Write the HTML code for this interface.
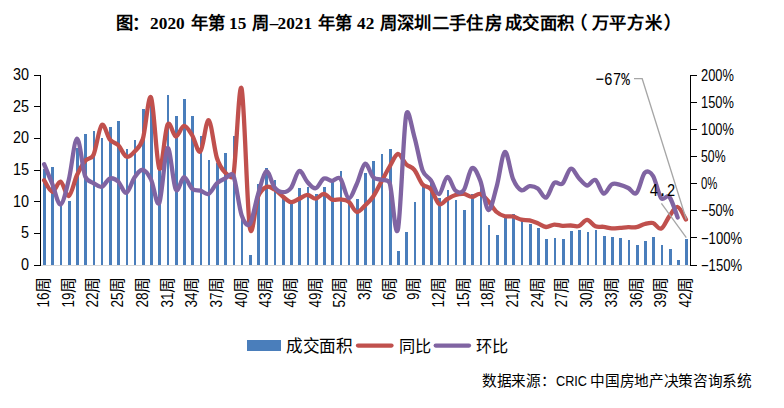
<!DOCTYPE html>
<html lang="zh-CN"><head><meta charset="utf-8"><style>
html,body{margin:0;padding:0;background:#fff;width:784px;height:408px;overflow:hidden}
svg{position:absolute;left:0;top:0;font-family:"Liberation Sans", sans-serif}
</style></head><body>
<svg width="784" height="408" viewBox="0 0 784 408">
<line x1="40.0" y1="265.5" x2="690.0" y2="265.5" stroke="#d9d9d9" stroke-width="1"/>
<rect x="43" y="169" width="3" height="96" fill="#4a7ebb" shape-rendering="crispEdges"/>
<rect x="51" y="167" width="3" height="98" fill="#4a7ebb" shape-rendering="crispEdges"/>
<rect x="60" y="205" width="2" height="60" fill="#4a7ebb" shape-rendering="crispEdges"/>
<rect x="68" y="201" width="3" height="64" fill="#4a7ebb" shape-rendering="crispEdges"/>
<rect x="76" y="148" width="3" height="117" fill="#4a7ebb" shape-rendering="crispEdges"/>
<rect x="84" y="134" width="3" height="131" fill="#4a7ebb" shape-rendering="crispEdges"/>
<rect x="93" y="131" width="2" height="134" fill="#4a7ebb" shape-rendering="crispEdges"/>
<rect x="101" y="138" width="2" height="127" fill="#4a7ebb" shape-rendering="crispEdges"/>
<rect x="109" y="127" width="3" height="138" fill="#4a7ebb" shape-rendering="crispEdges"/>
<rect x="117" y="121" width="3" height="144" fill="#4a7ebb" shape-rendering="crispEdges"/>
<rect x="126" y="149" width="2" height="116" fill="#4a7ebb" shape-rendering="crispEdges"/>
<rect x="134" y="140" width="2" height="125" fill="#4a7ebb" shape-rendering="crispEdges"/>
<rect x="142" y="109" width="3" height="156" fill="#4a7ebb" shape-rendering="crispEdges"/>
<rect x="150" y="100" width="3" height="165" fill="#4a7ebb" shape-rendering="crispEdges"/>
<rect x="158" y="167" width="3" height="98" fill="#4a7ebb" shape-rendering="crispEdges"/>
<rect x="167" y="95" width="2" height="170" fill="#4a7ebb" shape-rendering="crispEdges"/>
<rect x="175" y="116" width="3" height="149" fill="#4a7ebb" shape-rendering="crispEdges"/>
<rect x="183" y="99" width="3" height="166" fill="#4a7ebb" shape-rendering="crispEdges"/>
<rect x="191" y="116" width="3" height="149" fill="#4a7ebb" shape-rendering="crispEdges"/>
<rect x="200" y="136" width="2" height="129" fill="#4a7ebb" shape-rendering="crispEdges"/>
<rect x="208" y="160" width="2" height="105" fill="#4a7ebb" shape-rendering="crispEdges"/>
<rect x="216" y="163" width="3" height="102" fill="#4a7ebb" shape-rendering="crispEdges"/>
<rect x="224" y="153" width="3" height="112" fill="#4a7ebb" shape-rendering="crispEdges"/>
<rect x="233" y="136" width="2" height="129" fill="#4a7ebb" shape-rendering="crispEdges"/>
<rect x="241" y="214" width="2" height="51" fill="#4a7ebb" shape-rendering="crispEdges"/>
<rect x="249" y="255" width="3" height="10" fill="#4a7ebb" shape-rendering="crispEdges"/>
<rect x="257" y="184" width="3" height="81" fill="#4a7ebb" shape-rendering="crispEdges"/>
<rect x="265" y="168" width="3" height="97" fill="#4a7ebb" shape-rendering="crispEdges"/>
<rect x="274" y="180" width="2" height="85" fill="#4a7ebb" shape-rendering="crispEdges"/>
<rect x="282" y="196" width="3" height="69" fill="#4a7ebb" shape-rendering="crispEdges"/>
<rect x="290" y="203" width="3" height="62" fill="#4a7ebb" shape-rendering="crispEdges"/>
<rect x="298" y="188" width="3" height="77" fill="#4a7ebb" shape-rendering="crispEdges"/>
<rect x="307" y="187" width="2" height="78" fill="#4a7ebb" shape-rendering="crispEdges"/>
<rect x="315" y="194" width="3" height="71" fill="#4a7ebb" shape-rendering="crispEdges"/>
<rect x="323" y="187" width="3" height="78" fill="#4a7ebb" shape-rendering="crispEdges"/>
<rect x="331" y="181" width="3" height="84" fill="#4a7ebb" shape-rendering="crispEdges"/>
<rect x="340" y="171" width="2" height="94" fill="#4a7ebb" shape-rendering="crispEdges"/>
<rect x="348" y="202" width="2" height="63" fill="#4a7ebb" shape-rendering="crispEdges"/>
<rect x="356" y="199" width="3" height="66" fill="#4a7ebb" shape-rendering="crispEdges"/>
<rect x="364" y="173" width="3" height="92" fill="#4a7ebb" shape-rendering="crispEdges"/>
<rect x="372" y="161" width="3" height="104" fill="#4a7ebb" shape-rendering="crispEdges"/>
<rect x="381" y="154" width="2" height="111" fill="#4a7ebb" shape-rendering="crispEdges"/>
<rect x="389" y="149" width="3" height="116" fill="#4a7ebb" shape-rendering="crispEdges"/>
<rect x="397" y="251" width="3" height="14" fill="#4a7ebb" shape-rendering="crispEdges"/>
<rect x="405" y="232" width="3" height="33" fill="#4a7ebb" shape-rendering="crispEdges"/>
<rect x="414" y="202" width="2" height="63" fill="#4a7ebb" shape-rendering="crispEdges"/>
<rect x="422" y="187" width="3" height="78" fill="#4a7ebb" shape-rendering="crispEdges"/>
<rect x="430" y="182" width="3" height="83" fill="#4a7ebb" shape-rendering="crispEdges"/>
<rect x="438" y="198" width="3" height="67" fill="#4a7ebb" shape-rendering="crispEdges"/>
<rect x="447" y="190" width="2" height="75" fill="#4a7ebb" shape-rendering="crispEdges"/>
<rect x="455" y="200" width="2" height="65" fill="#4a7ebb" shape-rendering="crispEdges"/>
<rect x="463" y="210" width="3" height="55" fill="#4a7ebb" shape-rendering="crispEdges"/>
<rect x="471" y="194" width="3" height="71" fill="#4a7ebb" shape-rendering="crispEdges"/>
<rect x="480" y="187" width="2" height="78" fill="#4a7ebb" shape-rendering="crispEdges"/>
<rect x="488" y="225" width="2" height="40" fill="#4a7ebb" shape-rendering="crispEdges"/>
<rect x="496" y="235" width="3" height="30" fill="#4a7ebb" shape-rendering="crispEdges"/>
<rect x="504" y="217" width="3" height="48" fill="#4a7ebb" shape-rendering="crispEdges"/>
<rect x="512" y="214" width="3" height="51" fill="#4a7ebb" shape-rendering="crispEdges"/>
<rect x="521" y="221" width="2" height="44" fill="#4a7ebb" shape-rendering="crispEdges"/>
<rect x="529" y="224" width="3" height="41" fill="#4a7ebb" shape-rendering="crispEdges"/>
<rect x="537" y="228" width="3" height="37" fill="#4a7ebb" shape-rendering="crispEdges"/>
<rect x="545" y="239" width="3" height="26" fill="#4a7ebb" shape-rendering="crispEdges"/>
<rect x="554" y="238" width="2" height="27" fill="#4a7ebb" shape-rendering="crispEdges"/>
<rect x="562" y="239" width="3" height="26" fill="#4a7ebb" shape-rendering="crispEdges"/>
<rect x="570" y="231" width="3" height="34" fill="#4a7ebb" shape-rendering="crispEdges"/>
<rect x="578" y="230" width="3" height="35" fill="#4a7ebb" shape-rendering="crispEdges"/>
<rect x="587" y="232" width="2" height="33" fill="#4a7ebb" shape-rendering="crispEdges"/>
<rect x="595" y="230" width="2" height="35" fill="#4a7ebb" shape-rendering="crispEdges"/>
<rect x="603" y="236" width="3" height="29" fill="#4a7ebb" shape-rendering="crispEdges"/>
<rect x="611" y="237" width="3" height="28" fill="#4a7ebb" shape-rendering="crispEdges"/>
<rect x="619" y="238" width="3" height="27" fill="#4a7ebb" shape-rendering="crispEdges"/>
<rect x="628" y="240" width="2" height="25" fill="#4a7ebb" shape-rendering="crispEdges"/>
<rect x="636" y="245" width="3" height="20" fill="#4a7ebb" shape-rendering="crispEdges"/>
<rect x="644" y="241" width="3" height="24" fill="#4a7ebb" shape-rendering="crispEdges"/>
<rect x="652" y="237" width="3" height="28" fill="#4a7ebb" shape-rendering="crispEdges"/>
<rect x="661" y="245" width="2" height="20" fill="#4a7ebb" shape-rendering="crispEdges"/>
<rect x="669" y="249" width="3" height="16" fill="#4a7ebb" shape-rendering="crispEdges"/>
<rect x="677" y="260" width="3" height="5" fill="#4a7ebb" shape-rendering="crispEdges"/>
<rect x="685" y="239" width="3" height="26" fill="#4a7ebb" shape-rendering="crispEdges"/>
<line x1="40.5" y1="75" x2="40.5" y2="265.5" stroke="#000" stroke-width="1"/>
<line x1="34" y1="75.5" x2="41" y2="75.5" stroke="#000" stroke-width="1"/>
<line x1="34" y1="106.5" x2="41" y2="106.5" stroke="#000" stroke-width="1"/>
<line x1="34" y1="138.5" x2="41" y2="138.5" stroke="#000" stroke-width="1"/>
<line x1="34" y1="170.5" x2="41" y2="170.5" stroke="#000" stroke-width="1"/>
<line x1="34" y1="201.5" x2="41" y2="201.5" stroke="#000" stroke-width="1"/>
<line x1="34" y1="233.5" x2="41" y2="233.5" stroke="#000" stroke-width="1"/>
<line x1="34" y1="265.5" x2="41" y2="265.5" stroke="#000" stroke-width="1"/>
<line x1="690.5" y1="75" x2="690.5" y2="265.5" stroke="#000" stroke-width="1"/>
<line x1="690" y1="75.5" x2="697" y2="75.5" stroke="#000" stroke-width="1"/>
<line x1="690" y1="102.5" x2="697" y2="102.5" stroke="#000" stroke-width="1"/>
<line x1="690" y1="129.5" x2="697" y2="129.5" stroke="#000" stroke-width="1"/>
<line x1="690" y1="156.5" x2="697" y2="156.5" stroke="#000" stroke-width="1"/>
<line x1="690" y1="183.5" x2="697" y2="183.5" stroke="#000" stroke-width="1"/>
<line x1="690" y1="210.5" x2="697" y2="210.5" stroke="#000" stroke-width="1"/>
<line x1="690" y1="237.5" x2="697" y2="237.5" stroke="#000" stroke-width="1"/>
<line x1="690" y1="265.5" x2="697" y2="265.5" stroke="#000" stroke-width="1"/>
<path d="M44.11,180.30C45.49,182.22 49.60,191.58 52.34,191.80C55.08,192.02 57.83,180.90 60.57,181.60C63.31,182.30 66.05,197.10 68.80,196.00C71.54,194.90 74.28,180.87 77.03,175.00C79.77,169.13 82.51,164.13 85.25,160.80C88.00,157.47 91.38,159.57 93.48,155.00C96.22,149.03 98.97,127.55 101.71,125.00C104.45,122.45 107.19,136.37 109.94,139.70C112.68,143.03 115.42,142.18 118.16,145.00C120.91,147.82 123.65,155.52 126.39,156.60C129.14,157.68 131.88,154.43 134.62,151.50C137.36,148.57 140.67,146.16 142.85,139.00C145.59,130.00 148.33,92.58 151.08,97.50C153.82,102.42 156.56,163.97 159.30,168.50C162.05,173.03 164.79,130.03 167.53,124.70C170.27,119.37 173.02,136.30 175.76,136.50C178.50,136.70 181.24,126.08 183.99,125.90C186.73,125.72 189.47,131.13 192.22,135.40C194.96,139.67 197.70,154.03 200.44,151.50C203.19,148.97 205.93,119.12 208.67,120.20C211.41,121.28 214.16,149.28 216.90,158.00C219.40,165.95 222.38,169.58 225.13,172.50C227.87,175.42 232.51,179.80 233.35,175.50C236.10,161.48 238.84,79.73 241.58,88.40C244.32,97.07 247.07,209.43 249.81,227.50C252.20,243.21 255.30,203.55 258.04,196.80C260.45,190.87 263.52,188.22 266.27,187.00C269.01,185.78 271.75,187.92 274.49,189.50C277.24,191.08 279.98,194.38 282.72,196.50C285.46,198.62 288.21,201.82 290.95,202.20C293.69,202.58 296.43,200.03 299.18,198.80C301.92,197.57 304.66,194.82 307.41,194.80C310.15,194.78 312.89,198.87 315.63,198.70C318.38,198.53 321.12,193.63 323.86,193.80C326.60,193.97 329.35,198.77 332.09,199.70C334.83,200.63 337.57,199.10 340.32,199.40C343.06,199.70 345.80,199.40 348.54,201.50C351.29,203.60 354.03,211.33 356.77,212.00C359.51,212.67 362.26,208.08 365.00,205.50C367.74,202.92 370.49,200.50 373.23,196.50C375.97,192.50 378.71,186.50 381.46,181.50C384.20,176.50 386.94,171.08 389.68,166.50C392.43,161.92 395.17,154.38 397.91,154.00C400.65,153.62 403.40,161.55 406.14,164.20C408.88,166.85 411.62,166.52 414.37,169.90C417.11,173.28 419.85,181.32 422.59,184.50C425.34,187.68 428.08,185.75 430.82,189.00C433.57,192.25 436.31,202.33 439.05,204.00C441.79,205.67 444.54,200.50 447.28,199.00C450.02,197.50 452.76,195.85 455.51,195.00C458.25,194.15 460.99,193.58 463.73,193.90C466.48,194.22 469.22,196.90 471.96,196.90C474.70,196.90 477.45,193.17 480.19,193.90C482.93,194.63 485.68,198.28 488.42,201.30C491.16,204.32 493.90,209.52 496.65,212.00C499.39,214.48 502.13,215.45 504.87,216.20C507.62,216.95 510.36,215.92 513.10,216.50C515.84,217.08 518.59,219.05 521.33,219.70C524.07,220.35 526.81,219.80 529.56,220.40C532.30,221.00 535.04,222.20 537.78,223.30C540.53,224.40 543.27,226.78 546.01,227.00C548.76,227.22 551.50,224.80 554.24,224.60C556.98,224.40 559.73,225.65 562.47,225.80C565.21,225.95 567.95,225.47 570.70,225.50C573.44,225.53 576.18,226.93 578.92,226.00C581.67,225.07 584.41,219.85 587.15,219.90C589.89,219.95 592.64,225.15 595.38,226.30C598.12,227.45 600.86,226.45 603.61,226.80C606.35,227.15 609.09,228.22 611.84,228.40C614.58,228.58 617.32,228.10 620.06,227.90C622.81,227.70 625.55,227.32 628.29,227.20C631.03,227.08 633.78,227.73 636.52,227.20C639.26,226.67 642.00,224.70 644.75,224.00C647.49,223.30 650.23,222.23 652.97,223.00C655.72,223.77 658.46,229.75 661.20,228.60C663.95,227.45 666.69,219.70 669.43,216.10C672.17,212.50 674.92,206.43 677.66,207.00C680.40,207.57 684.51,217.42 685.89,219.50" fill="none" stroke="#c0504d" stroke-width="4.3" stroke-linejoin="round" stroke-linecap="round"/>
<path d="M44.11,164.20C45.49,167.50 49.60,177.28 52.34,184.00C55.08,190.72 57.83,205.22 60.57,204.50C63.31,203.78 66.05,190.68 68.80,179.70C71.54,168.72 74.28,139.13 77.03,138.60C79.77,138.07 82.51,169.08 85.25,176.50C87.08,181.45 90.74,181.38 93.48,183.10C96.22,184.82 98.97,187.57 101.71,186.80C104.45,186.03 107.19,179.38 109.94,178.50C112.68,177.62 115.42,179.12 118.16,181.50C120.91,183.88 123.65,193.52 126.39,192.80C129.14,192.08 131.88,181.03 134.62,177.20C137.36,173.37 140.11,169.40 142.85,169.80C145.59,170.20 148.33,174.08 151.08,179.60C153.82,185.12 156.56,208.17 159.30,202.90C162.05,197.63 164.79,150.25 167.53,148.00C170.27,145.75 173.02,184.53 175.76,189.40C178.50,194.27 181.24,177.28 183.99,177.20C186.73,177.12 189.47,186.67 192.22,188.90C194.96,191.13 197.70,189.78 200.44,190.60C203.19,191.42 205.93,195.02 208.67,193.80C211.41,192.58 214.16,185.87 216.90,183.30C219.64,180.73 222.38,179.70 225.13,178.40C227.87,177.10 231.57,171.52 233.35,175.50C236.10,181.62 238.84,206.98 241.58,215.10C243.55,220.91 247.07,227.67 249.81,224.20C252.55,220.73 255.30,203.12 258.04,194.30C260.78,185.48 263.52,172.47 266.27,171.30C269.01,170.13 271.75,183.82 274.49,187.30C277.24,190.78 279.98,192.08 282.72,192.20C285.46,192.32 288.21,191.53 290.95,188.00C293.69,184.47 296.43,172.00 299.18,171.00C301.92,170.00 304.66,179.13 307.41,182.00C310.15,184.87 312.89,188.78 315.63,188.20C318.38,187.62 321.12,179.73 323.86,178.50C326.60,177.27 329.35,180.78 332.09,180.80C334.83,180.82 337.57,175.73 340.32,178.60C343.06,181.47 345.80,197.10 348.54,198.00C351.29,198.90 354.03,189.70 356.77,184.00C359.51,178.30 362.26,164.92 365.00,163.80C367.74,162.68 370.49,174.65 373.23,177.30C375.97,179.95 378.71,178.75 381.46,179.70C384.20,180.65 388.29,178.79 389.68,183.00C392.43,191.30 395.17,240.80 397.91,229.50C400.65,218.20 403.40,130.65 406.14,115.20C408.16,103.82 411.62,127.58 414.37,136.80C417.11,146.02 419.85,163.25 422.59,170.50C424.86,176.48 428.08,176.35 430.82,180.30C433.57,184.25 436.31,194.75 439.05,194.20C441.79,193.65 444.54,177.58 447.28,177.00C450.02,176.42 452.76,188.48 455.51,190.70C458.25,192.92 461.30,193.62 463.73,190.30C466.48,186.55 469.22,169.85 471.96,168.20C474.70,166.55 477.49,173.56 480.19,180.40C482.93,187.35 485.68,208.87 488.42,209.90C491.16,210.93 493.90,196.25 496.65,186.60C499.39,176.95 502.13,153.23 504.87,152.00C507.62,150.77 510.36,172.83 513.10,179.20C515.82,185.51 518.59,189.05 521.33,190.20C524.07,191.35 526.81,186.38 529.56,186.10C532.30,185.82 535.04,186.58 537.78,188.50C540.53,190.42 543.27,198.53 546.01,197.60C548.76,196.67 551.50,185.23 554.24,182.90C556.98,180.57 559.73,185.97 562.47,183.60C565.21,181.23 567.95,169.60 570.70,168.70C573.44,167.80 576.18,175.40 578.92,178.20C581.67,181.00 584.41,185.22 587.15,185.50C589.89,185.78 592.64,178.55 595.38,179.90C598.12,181.25 600.86,192.87 603.61,193.60C606.35,194.33 609.09,185.77 611.84,184.30C614.58,182.83 617.32,184.18 620.06,184.80C622.81,185.42 625.55,186.65 628.29,188.00C631.03,189.35 633.78,195.43 636.52,192.90C639.26,190.37 642.00,175.65 644.75,172.80C647.49,169.95 650.59,172.13 652.97,175.80C655.72,180.02 658.46,194.57 661.20,198.10C663.75,201.38 666.75,193.83 669.43,197.00C672.17,200.23 676.29,214.08 677.66,217.50" fill="none" stroke="#8064a2" stroke-width="4.3" stroke-linejoin="round" stroke-linecap="round"/>
<polyline points="634,78.7 642.2,78.7 686.3,219.5" fill="none" stroke="#a6a6a6" stroke-width="1.3"/>
<line x1="661.4" y1="203.3" x2="686.3" y2="237.6" stroke="#a6a6a6" stroke-width="1.3"/>
<rect x="247" y="340" width="34" height="11" fill="#4a7ebb"/>
<line x1="358" y1="345.6" x2="391.5" y2="345.6" stroke="#c0504d" stroke-width="4.3" stroke-linecap="round"/>
<line x1="435.7" y1="345.6" x2="469" y2="345.6" stroke="#8064a2" stroke-width="4.3" stroke-linecap="round"/>
<g fill="#000">
<text x="13" y="80.1" font-size="16" text-anchor="start"  textLength="16" lengthAdjust="spacingAndGlyphs">30</text>
<text x="13" y="111.76666666666667" font-size="16" text-anchor="start"  textLength="16" lengthAdjust="spacingAndGlyphs">25</text>
<text x="13" y="143.43333333333334" font-size="16" text-anchor="start"  textLength="16" lengthAdjust="spacingAndGlyphs">20</text>
<text x="13" y="175.1" font-size="16" text-anchor="start"  textLength="16" lengthAdjust="spacingAndGlyphs">15</text>
<text x="13" y="206.76666666666668" font-size="16" text-anchor="start"  textLength="16" lengthAdjust="spacingAndGlyphs">10</text>
<text x="21" y="238.43333333333334" font-size="16" text-anchor="start"  textLength="8" lengthAdjust="spacingAndGlyphs">5</text>
<text x="21" y="270.1" font-size="16" text-anchor="start"  textLength="8" lengthAdjust="spacingAndGlyphs">0</text>
<text x="701" y="80.7" font-size="16" text-anchor="start"  textLength="32.8" lengthAdjust="spacingAndGlyphs">200%</text>
<text x="701" y="107.84285714285714" font-size="16" text-anchor="start"  textLength="32.8" lengthAdjust="spacingAndGlyphs">150%</text>
<text x="701" y="134.98571428571427" font-size="16" text-anchor="start"  textLength="32.8" lengthAdjust="spacingAndGlyphs">100%</text>
<text x="701" y="162.12857142857143" font-size="16" text-anchor="start"  textLength="24.599999999999998" lengthAdjust="spacingAndGlyphs">50%</text>
<text x="701" y="189.27142857142854" font-size="16" text-anchor="start"  textLength="16.4" lengthAdjust="spacingAndGlyphs">0%</text>
<text x="701" y="216.4142857142857" font-size="16" text-anchor="start"  textLength="32.8" lengthAdjust="spacingAndGlyphs">−50%</text>
<text x="701" y="243.55714285714285" font-size="16" text-anchor="start"  textLength="41.0" lengthAdjust="spacingAndGlyphs">−100%</text>
<text x="701" y="270.7" font-size="16" text-anchor="start"  textLength="41.0" lengthAdjust="spacingAndGlyphs">−150%</text>
<g transform="translate(49.11,307.4) rotate(-90)"><text x="0" y="0" font-size="16" textLength="15.0" lengthAdjust="spacingAndGlyphs">16</text><text x="14.5" y="0" font-size="16">周</text></g>
<g transform="translate(73.80,307.4) rotate(-90)"><text x="0" y="0" font-size="16" textLength="15.0" lengthAdjust="spacingAndGlyphs">19</text><text x="14.5" y="0" font-size="16">周</text></g>
<g transform="translate(98.48,307.4) rotate(-90)"><text x="0" y="0" font-size="16" textLength="15.0" lengthAdjust="spacingAndGlyphs">22</text><text x="14.5" y="0" font-size="16">周</text></g>
<g transform="translate(123.16,307.4) rotate(-90)"><text x="0" y="0" font-size="16" textLength="15.0" lengthAdjust="spacingAndGlyphs">25</text><text x="14.5" y="0" font-size="16">周</text></g>
<g transform="translate(147.85,307.4) rotate(-90)"><text x="0" y="0" font-size="16" textLength="15.0" lengthAdjust="spacingAndGlyphs">28</text><text x="14.5" y="0" font-size="16">周</text></g>
<g transform="translate(172.53,307.4) rotate(-90)"><text x="0" y="0" font-size="16" textLength="15.0" lengthAdjust="spacingAndGlyphs">31</text><text x="14.5" y="0" font-size="16">周</text></g>
<g transform="translate(197.22,307.4) rotate(-90)"><text x="0" y="0" font-size="16" textLength="15.0" lengthAdjust="spacingAndGlyphs">34</text><text x="14.5" y="0" font-size="16">周</text></g>
<g transform="translate(221.90,307.4) rotate(-90)"><text x="0" y="0" font-size="16" textLength="15.0" lengthAdjust="spacingAndGlyphs">37</text><text x="14.5" y="0" font-size="16">周</text></g>
<g transform="translate(246.58,307.4) rotate(-90)"><text x="0" y="0" font-size="16" textLength="15.0" lengthAdjust="spacingAndGlyphs">40</text><text x="14.5" y="0" font-size="16">周</text></g>
<g transform="translate(271.27,307.4) rotate(-90)"><text x="0" y="0" font-size="16" textLength="15.0" lengthAdjust="spacingAndGlyphs">43</text><text x="14.5" y="0" font-size="16">周</text></g>
<g transform="translate(295.95,307.4) rotate(-90)"><text x="0" y="0" font-size="16" textLength="15.0" lengthAdjust="spacingAndGlyphs">46</text><text x="14.5" y="0" font-size="16">周</text></g>
<g transform="translate(320.63,307.4) rotate(-90)"><text x="0" y="0" font-size="16" textLength="15.0" lengthAdjust="spacingAndGlyphs">49</text><text x="14.5" y="0" font-size="16">周</text></g>
<g transform="translate(345.32,307.4) rotate(-90)"><text x="0" y="0" font-size="16" textLength="15.0" lengthAdjust="spacingAndGlyphs">52</text><text x="14.5" y="0" font-size="16">周</text></g>
<g transform="translate(370.00,299.9) rotate(-90)"><text x="0" y="0" font-size="16" textLength="7.5" lengthAdjust="spacingAndGlyphs">3</text><text x="7.0" y="0" font-size="16">周</text></g>
<g transform="translate(394.68,299.9) rotate(-90)"><text x="0" y="0" font-size="16" textLength="7.5" lengthAdjust="spacingAndGlyphs">6</text><text x="7.0" y="0" font-size="16">周</text></g>
<g transform="translate(419.37,299.9) rotate(-90)"><text x="0" y="0" font-size="16" textLength="7.5" lengthAdjust="spacingAndGlyphs">9</text><text x="7.0" y="0" font-size="16">周</text></g>
<g transform="translate(444.05,307.4) rotate(-90)"><text x="0" y="0" font-size="16" textLength="15.0" lengthAdjust="spacingAndGlyphs">12</text><text x="14.5" y="0" font-size="16">周</text></g>
<g transform="translate(468.73,307.4) rotate(-90)"><text x="0" y="0" font-size="16" textLength="15.0" lengthAdjust="spacingAndGlyphs">15</text><text x="14.5" y="0" font-size="16">周</text></g>
<g transform="translate(493.42,307.4) rotate(-90)"><text x="0" y="0" font-size="16" textLength="15.0" lengthAdjust="spacingAndGlyphs">18</text><text x="14.5" y="0" font-size="16">周</text></g>
<g transform="translate(518.10,307.4) rotate(-90)"><text x="0" y="0" font-size="16" textLength="15.0" lengthAdjust="spacingAndGlyphs">21</text><text x="14.5" y="0" font-size="16">周</text></g>
<g transform="translate(542.78,307.4) rotate(-90)"><text x="0" y="0" font-size="16" textLength="15.0" lengthAdjust="spacingAndGlyphs">24</text><text x="14.5" y="0" font-size="16">周</text></g>
<g transform="translate(567.47,307.4) rotate(-90)"><text x="0" y="0" font-size="16" textLength="15.0" lengthAdjust="spacingAndGlyphs">27</text><text x="14.5" y="0" font-size="16">周</text></g>
<g transform="translate(592.15,307.4) rotate(-90)"><text x="0" y="0" font-size="16" textLength="15.0" lengthAdjust="spacingAndGlyphs">30</text><text x="14.5" y="0" font-size="16">周</text></g>
<g transform="translate(616.84,307.4) rotate(-90)"><text x="0" y="0" font-size="16" textLength="15.0" lengthAdjust="spacingAndGlyphs">33</text><text x="14.5" y="0" font-size="16">周</text></g>
<g transform="translate(641.52,307.4) rotate(-90)"><text x="0" y="0" font-size="16" textLength="15.0" lengthAdjust="spacingAndGlyphs">36</text><text x="14.5" y="0" font-size="16">周</text></g>
<g transform="translate(666.20,307.4) rotate(-90)"><text x="0" y="0" font-size="16" textLength="15.0" lengthAdjust="spacingAndGlyphs">39</text><text x="14.5" y="0" font-size="16">周</text></g>
<g transform="translate(690.89,307.4) rotate(-90)"><text x="0" y="0" font-size="16" textLength="15.0" lengthAdjust="spacingAndGlyphs">42</text><text x="14.5" y="0" font-size="16">周</text></g>
<text x="595.5" y="85.0" font-size="18" text-anchor="start"  style="font-family:'Liberation Mono',monospace" textLength="34.5" lengthAdjust="spacingAndGlyphs">−67%</text>
<text x="649.5" y="195.9" font-size="18" text-anchor="start"  style="font-family:'Liberation Mono',monospace" textLength="26" lengthAdjust="spacingAndGlyphs">4.2</text>
<text x="285.9 302.6 319.3 336" y="352" font-size="16.67">成交面积</text>
<text x="399 415.2" y="352" font-size="16.2">同比</text>
<text x="475.7 491.9" y="352" font-size="16.2">环比</text>
<text x="116 131.5 150.1 158.75 167.4 176.05 191.2 207.6 229 237.65 251.7 269.8 277.5 286.15 294.8 303.45 317.8 334.7 357.1 365.75 380 397.3 413.7 431.5 449.4 465.7 484.6 504.5 522.4 540.2 556.8 570 592.2 609 627 644.8 664.4" y="28.5" font-size="17.3" font-weight="bold" font-family="'Liberation Serif', serif">图：2020年第15周–2021年第42周深圳二手住房成交面积（万平方米）</text>
<text x="482 496.6 511.2 525.8 540.6" y="386.3" font-size="14.67">数据来源：</text>
<text x="556" y="386.3" font-size="14.67" textLength="31" lengthAdjust="spacingAndGlyphs">CRIC</text>
<text x="590.4 605.1 619.7 634.4 649.1 663.8 678.4 693.1 707.8 722.4" y="386.3" font-size="14.67">中国房地产决策咨询系统</text>
</g>
</svg>
</body></html>
